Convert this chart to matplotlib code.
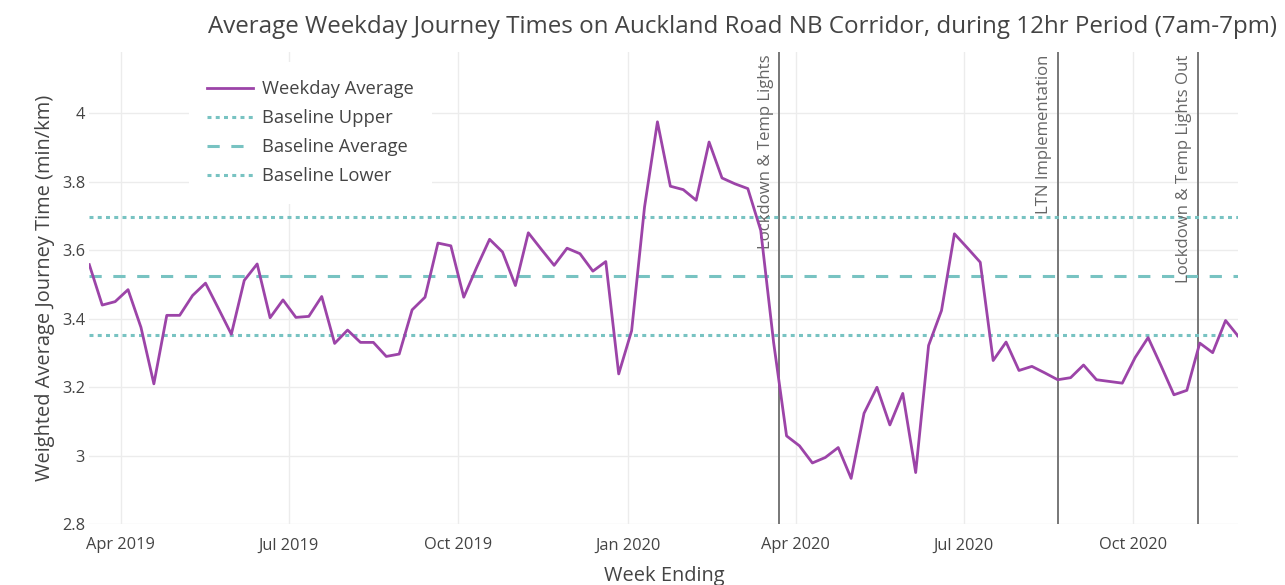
import matplotlib
matplotlib.use("Agg")
import matplotlib.pyplot as plt
import matplotlib.dates as mdates
import pandas as pd

plt.rcParams["font.family"] = ["Open Sans", "DejaVu Sans"]

# weekly (week ending) journey times, min/km
week_ending = pd.date_range("2019-03-15", "2020-11-27", freq="7D")
weekday_avg = [
    3.558, 3.44, 3.45, 3.485, 3.375, 3.21, 3.41, 3.41, 3.468, 3.504,
    3.43, 3.355, 3.512, 3.56, 3.403, 3.455, 3.404, 3.407, 3.465, 3.328,
    3.367, 3.331, 3.331, 3.29, 3.297, 3.426, 3.463, 3.621, 3.613, 3.463,
    3.55, 3.632, 3.595, 3.497, 3.651, 3.603, 3.556, 3.606, 3.59, 3.539,
    3.567, 3.239, 3.365, 3.726, 3.975, 3.787, 3.777, 3.746, 3.916, 3.811,
    3.794, 3.78, 3.658, 3.33, 3.058, 3.029, 2.979, 2.995, 3.024, 2.934,
    3.124, 3.2, 3.09, 3.182, 2.951, 3.322, 3.424, 3.648, 3.607, 3.565,
    3.278, 3.332, 3.249, 3.261, 3.242, 3.222, 3.228, 3.265, 3.222, 3.217,
    3.212, 3.287, 3.345, 3.263, 3.178, 3.191, 3.329, 3.301, 3.395, 3.348,
]

baseline_upper = 3.698
baseline_avg = 3.525
baseline_lower = 3.352

event_dates = pd.to_datetime(["2020-03-23", "2020-08-21", "2020-11-05"])
event_labels = ["Lockdown & Temp Lights", "LTN Implementation", "Lockdown & Temp Lights Out"]

PURPLE = "#9c44a8"
TEAL = "#78c3c2"
TXT = "#444444"
GRID = "#ececec"

fig = plt.figure(figsize=(12.85, 5.85), dpi=100)
ax = fig.add_axes([0.0695, 0.1038, 0.8943, 0.808])

ax.plot(week_ending, weekday_avg, color=PURPLE, lw=2.0, label="Weekday Average", zorder=4)
ax.axhline(baseline_upper, color=TEAL, lw=2.2, ls=(0, (1.3, 1.4)), label="Baseline Upper", zorder=3)
ax.axhline(baseline_avg, color=TEAL, lw=2.2, ls=(0, (4.0, 3.8)), label="Baseline Average", zorder=3)
ax.axhline(baseline_lower, color=TEAL, lw=2.2, ls=(0, (1.3, 1.4)), label="Baseline Lower", zorder=3)

for d, lab in zip(event_dates, event_labels):
    ax.axvline(d, color="#777777", lw=1.4, zorder=2)
    ax.annotate(lab, xy=(d, 1.0), xycoords=("data", "axes fraction"),
                xytext=(-4, -2), textcoords="offset points",
                rotation=90, ha="right", va="top", fontsize=12.1, color="#666666")

ax.set_xlim(week_ending[0], week_ending[-1])
ax.set_ylim(2.8, 4.18)
ax.set_yticks([2.8, 3.0, 3.2, 3.4, 3.6, 3.8, 4.0])
ax.set_yticklabels(["2.8", "3", "3.2", "3.4", "3.6", "3.8", "4"])
ax.xaxis.set_major_locator(mdates.MonthLocator(bymonth=[1, 4, 7, 10]))
ax.xaxis.set_major_formatter(mdates.DateFormatter("%b %Y"))

ax.grid(True, color=GRID, lw=1.0, zorder=0)
ax.set_axisbelow(True)
for s in ax.spines.values():
    s.set_visible(False)
ax.tick_params(length=0, labelsize=11.8, labelcolor=TXT)
ax.tick_params(axis="x", pad=9.5)
ax.tick_params(axis="y", pad=3)

ax.set_xlabel("Week Ending", fontsize=14.4, color=TXT, labelpad=9)
ax.set_ylabel("Weighted Average Journey Time (min/km)", fontsize=14.4, color=TXT, labelpad=5)
fig.text(0.578, 0.954, "Average Weekday Journey Times on Auckland Road NB Corridor, during 12hr Period (7am-7pm)",
         ha="center", va="center", fontsize=17.4, color=TXT)

leg = ax.legend(loc="upper left", bbox_to_anchor=(189 / 1285, 1 - 62 / 585), bbox_transform=fig.transFigure,
                borderaxespad=0, frameon=True, fontsize=13.2, handlelength=2.5, handletextpad=0.5,
                labelspacing=0.6, borderpad=1.0)
leg.get_frame().set_facecolor("white")
leg.get_frame().set_edgecolor("none")
leg.get_frame().set_alpha(1)
leg.get_frame().set_boxstyle("square", pad=0)
for t in leg.get_texts():
    t.set_color(TXT)

fig.savefig("out.png", dpi=100, facecolor="white")
